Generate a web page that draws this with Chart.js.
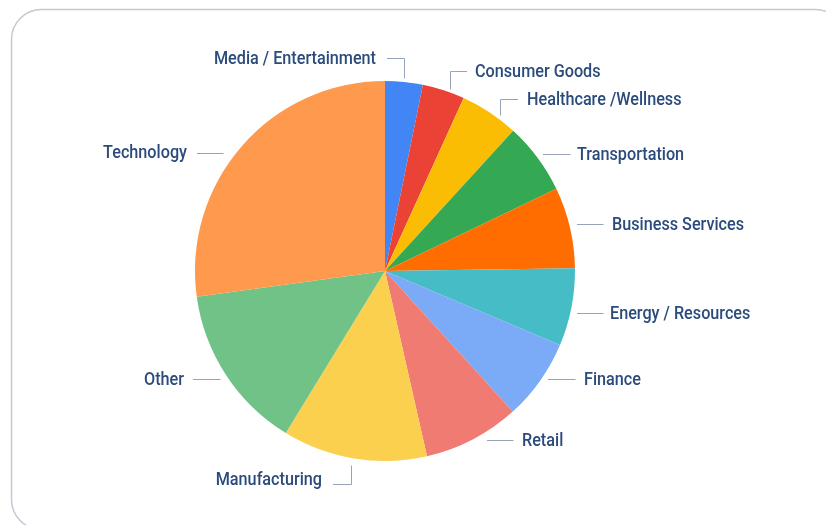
<!DOCTYPE html>
<html>
<head>
<meta charset="utf-8">
<script src="https://cdn.jsdelivr.net/npm/chart.js@4.4.1/dist/chart.umd.min.js"></script>
<style>
  html, body { margin: 0; padding: 0; background: #fff; }
  canvas { display: block; }
</style>
</head>
<body>
<canvas id="industry-pie" width="826" height="525"></canvas>
<script>
// Share of companies by industry (percent)
const industries = [
  "Media / Entertainment",
  "Consumer Goods",
  "Healthcare /Wellness",
  "Transportation",
  "Business Services",
  "Energy / Resources",
  "Finance",
  "Retail",
  "Manufacturing",
  "Other",
  "Technology",
];
const shares = [3.2, 3.6, 5.0, 6.1, 6.9, 6.6, 6.9, 8.2, 12.3, 14.1, 27.2];
const sliceColors = [
  "#4285f4", "#ea4335", "#fbbc04", "#34a853", "#ff6d01", "#46bdc6",
  "#7baaf7", "#f07b72", "#fcd04f", "#71c287", "#ff994d",
];

// where each label sits and how its leader line runs
const labelLayout = [
  { x: 376, y: 58, align: "right", line: [[387, 58], [404, 58], [404, 78]] },
  { x: 475, y: 71, align: "left", line: [[467, 71], [450, 71], [450, 89]] },
  { x: 527, y: 99, align: "left", line: [[518, 99], [500, 99], [500, 115]] },
  { x: 577, y: 154, align: "left", line: [[543, 154], [570, 154]] },
  { x: 612, y: 224, align: "left", line: [[577, 224], [603, 224]] },
  { x: 610, y: 313, align: "left", line: [[577, 313], [603, 313]] },
  { x: 584, y: 379, align: "left", line: [[548, 379], [575, 379]] },
  { x: 522, y: 440, align: "left", line: [[487, 440], [513, 440]] },
  { x: 322, y: 479, align: "right", line: [[333, 484], [351, 484], [351, 465]] },
  { x: 184, y: 379, align: "right", line: [[193, 379], [220, 379]] },
  { x: 187, y: 152, align: "right", line: [[197, 153], [223, 153]] },
];

const frameAndLabels = {
  id: "frameAndLabels",
  beforeDraw(chart) {
    const ctx = chart.ctx;
    ctx.save();
    ctx.strokeStyle = "#c6c7d4";
    ctx.lineWidth = 1.5;
    ctx.beginPath();
    ctx.roundRect(11.5, 9.5, 834, 520, 30);
    ctx.stroke();
    ctx.restore();
  },
  afterDraw(chart) {
    const ctx = chart.ctx;
    ctx.save();
    ctx.strokeStyle = "#97a3b8";
    ctx.lineWidth = 1;
    labelLayout.forEach((l) => {
      ctx.beginPath();
      l.line.forEach((p, i) => {
        if (i === 0) ctx.moveTo(p[0], p[1] + 0.5);
        else ctx.lineTo(p[0] + 0.5, p[1] + 0.5);
      });
      ctx.stroke();
    });
    ctx.fillStyle = "#2b4b7c";
    ctx.font = "500 18px Roboto";
    ctx.textBaseline = "middle";
    const squeeze = 0.9;
    industries.forEach((name, i) => {
      const l = labelLayout[i];
      ctx.save();
      ctx.translate(l.x, l.y + 1);
      ctx.scale(squeeze, 1);
      ctx.textAlign = l.align;
      ctx.fillText(name, 0, 0);
      ctx.restore();
    });
    ctx.restore();
  },
};

new Chart(document.getElementById("industry-pie"), {
  type: "pie",
  data: {
    labels: industries,
    datasets: [
      {
        data: shares,
        backgroundColor: sliceColors,
        borderWidth: 0,
      },
    ],
  },
  options: {
    responsive: false,
    animation: false,
    layout: { padding: { left: 195, right: 251, top: 81, bottom: 64 } },
    plugins: {
      legend: { display: false },
      tooltip: { enabled: false },
    },
  },
  plugins: [frameAndLabels],
});
</script>
</body>
</html>
